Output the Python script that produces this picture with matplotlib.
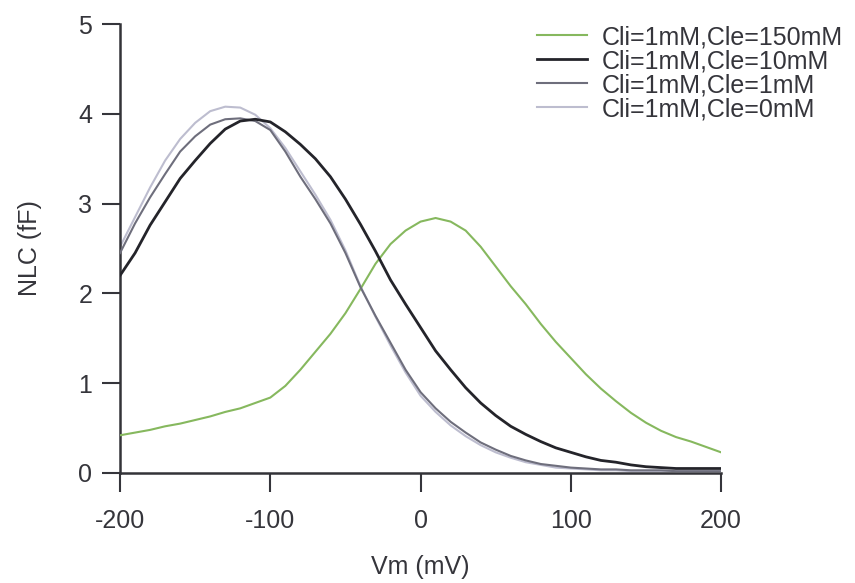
import matplotlib
matplotlib.use("Agg")
import matplotlib.pyplot as plt
import numpy as np

# Membrane voltage (mV), one reading every 10 mV
voltage = list(range(-200, 201, 10))

# NLC (fF) for each chloride condition
nlcCle150 = [0.42, 0.45, 0.48, 0.52, 0.55, 0.59, 0.63, 0.68, 0.72, 0.78,
             0.84, 0.97, 1.15, 1.35, 1.55, 1.78, 2.05, 2.33, 2.55, 2.70,
             2.80, 2.84, 2.80, 2.70, 2.52, 2.30, 2.08, 1.88, 1.66, 1.46,
             1.28, 1.10, 0.94, 0.80, 0.67, 0.56, 0.47, 0.40, 0.35, 0.29,
             0.23]
nlcCle10 = [2.20, 2.45, 2.76, 3.02, 3.28, 3.48, 3.67, 3.83, 3.92, 3.94,
            3.91, 3.80, 3.66, 3.50, 3.30, 3.05, 2.77, 2.47, 2.15, 1.88,
            1.62, 1.36, 1.15, 0.95, 0.78, 0.64, 0.52, 0.43, 0.35, 0.28,
            0.23, 0.18, 0.14, 0.12, 0.09, 0.07, 0.06, 0.05, 0.05, 0.05,
            0.05]
nlcCle1 = [2.45, 2.78, 3.07, 3.33, 3.58, 3.75, 3.88, 3.94, 3.95, 3.92,
           3.82, 3.58, 3.30, 3.05, 2.78, 2.45, 2.07, 1.75, 1.45, 1.15,
           0.90, 0.72, 0.57, 0.45, 0.34, 0.26, 0.19, 0.14, 0.10, 0.08,
           0.06, 0.05, 0.04, 0.04, 0.03, 0.03, 0.03, 0.02, 0.02, 0.02,
           0.02]
nlcCle0 = [2.52, 2.85, 3.18, 3.48, 3.72, 3.90, 4.03, 4.08, 4.07, 3.99,
           3.84, 3.62, 3.36, 3.10, 2.82, 2.48, 2.08, 1.74, 1.42, 1.12,
           0.86, 0.68, 0.53, 0.41, 0.31, 0.23, 0.17, 0.12, 0.09, 0.06,
           0.05, 0.04, 0.03, 0.03, 0.02, 0.02, 0.02, 0.02, 0.02, 0.02,
           0.02]

labels = ["Cli=1mM,Cle=150mM", "Cli=1mM,Cle=10mM",
          "Cli=1mM,Cle=1mM", "Cli=1mM,Cle=0mM"]
xTicks = [-200, -100, 0, 100, 200]
yTicks = [0, 1, 2, 3, 4, 5]

plt.rcParams['font.family'] = ['Liberation Sans', 'DejaVu Sans']
plt.rcParams['axes.unicode_minus'] = False
textColor = "#35353b"

fig = plt.figure(figsize=(8.55, 5.83), dpi=100)
ax = fig.add_axes([0.1404, 0.1887, 0.703, 0.770])

ax.plot(voltage, nlcCle150, color="#86b85e", lw=1.5, label=labels[0], zorder=3)
ax.plot(voltage, nlcCle10, color="#24242a", lw=2.0, label=labels[1], zorder=4)
ax.plot(voltage, nlcCle1, color="#6e6e7c", lw=1.5, label=labels[2], zorder=3)
ax.plot(voltage, nlcCle0, color="#bdbdcf", lw=1.5, label=labels[3], zorder=2)

ax.set_xlim(-200, 200)
ax.set_ylim(0, 5)
ax.set_xticks(xTicks)
ax.set_yticks(yTicks)
ax.spines['top'].set_visible(False)
ax.spines['right'].set_visible(False)
for side in ['left', 'bottom']:
    ax.spines[side].set_linewidth(1.8)
    ax.spines[side].set_color("#333338")
ax.tick_params(axis='y', direction='out', length=13, width=1.5, pad=7,
               labelsize=18, colors=textColor)
ax.tick_params(axis='x', direction='out', length=14, width=1.5, pad=12,
               labelsize=18, colors=textColor)

ax.set_xlabel("Vm (mV)", fontsize=18, color=textColor, labelpad=16)
ax.set_ylabel("NLC (fF)", fontsize=18, color=textColor, labelpad=26)

leg = fig.legend(loc='upper left', bbox_to_anchor=(537 / 855, 1 - 25 / 583),
                 frameon=False, fontsize=18, handlelength=2.0,
                 handletextpad=0.6, labelspacing=0.0, borderpad=0,
                 borderaxespad=0)
for t in leg.get_texts():
    t.set_color(textColor)

fig.savefig("out.png", dpi=100, facecolor="white")
